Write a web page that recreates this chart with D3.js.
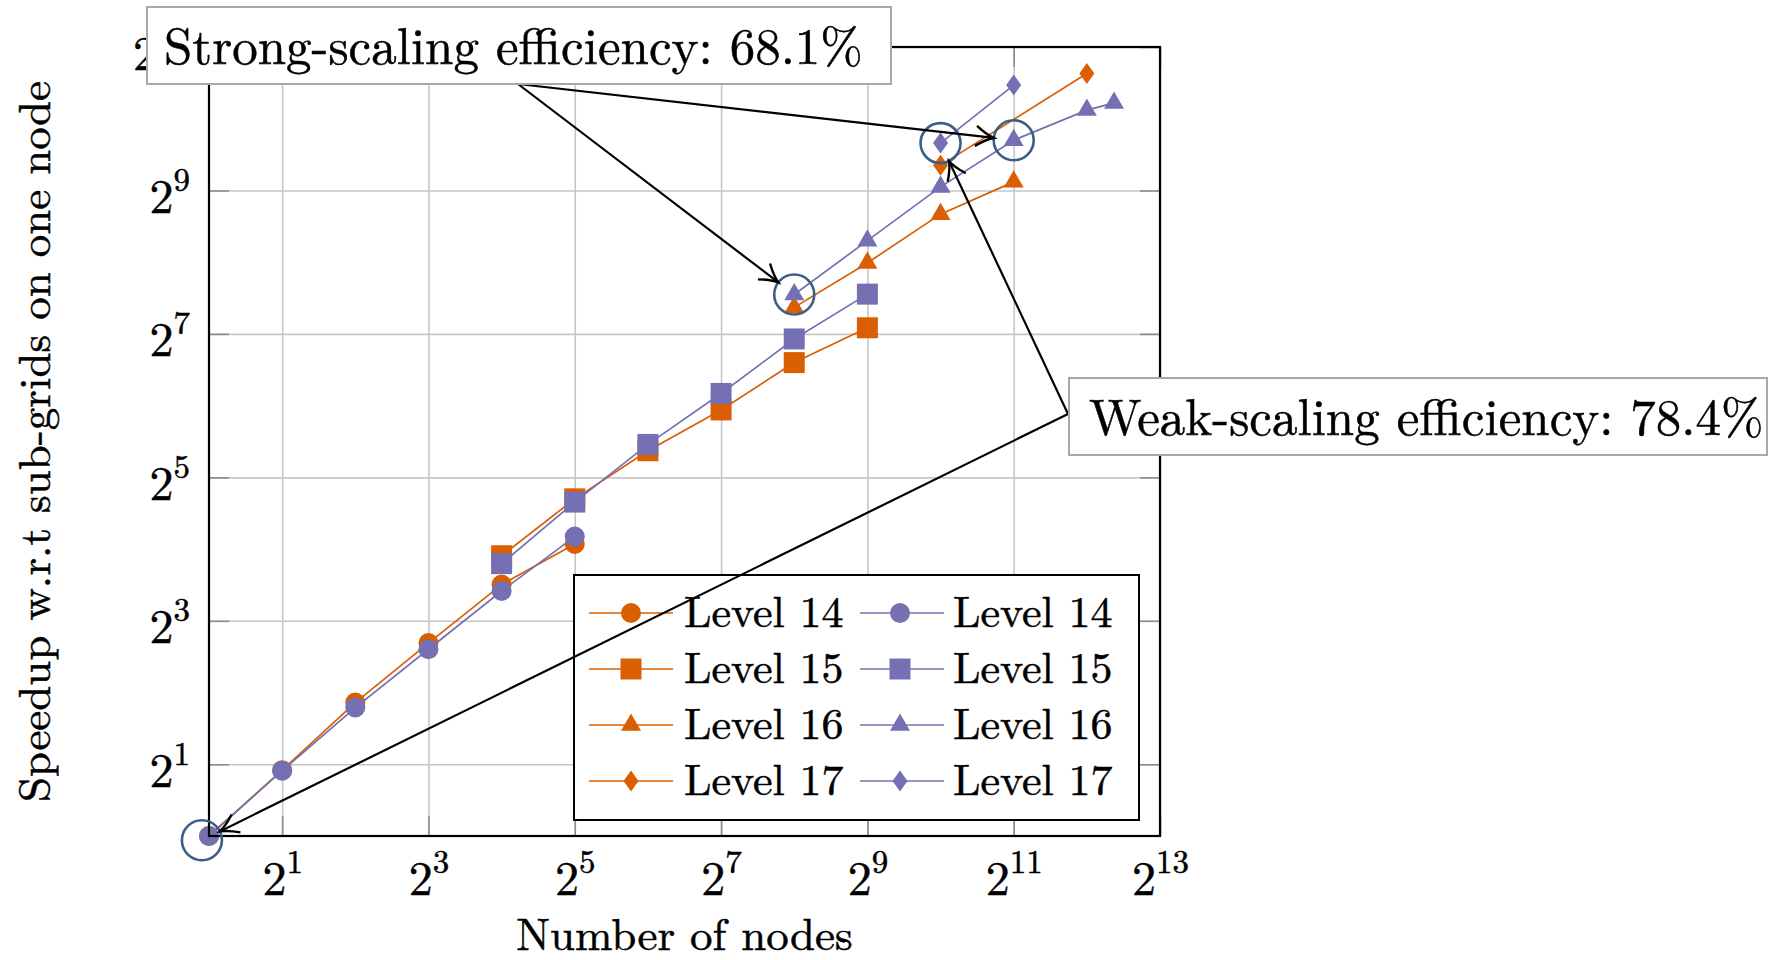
<!DOCTYPE html>
<html>
<head>
<meta charset="utf-8">
<script src="https://cdn.jsdelivr.net/npm/d3@7"></script>
<style>
  body { margin: 0; background: #fff; }
  svg text { stroke: #000; stroke-width: 0.5px; }
</style>
</head>
<body>
<svg id="chart" width="1769" height="960"></svg>
<script>
// ---- data ----
const levels = ["Level 14", "Level 15", "Level 16", "Level 17"];
const shapes = ["circle", "square", "triangle", "diamond"];

// number of nodes per series
const nodesL14 = [1, 2, 4, 8, 16, 32];
const nodesL15 = [16, 32, 64, 128, 256, 512];
const nodesL16Orange = [256, 512, 1024, 2048];
const nodesL16Purple = [256, 512, 1024, 2048, 4096, 5300];
const nodesL17Orange = [1024, 4096];
const nodesL17Purple = [1024, 2048];

// speedup w.r.t. sub-grids on one node
const orangeL14 = [1, 1.89, 3.63, 6.45, 11.35, 16.8];
const purpleL14 = [1, 1.88, 3.46, 6.08, 10.67, 18.06];
const orangeL15 = [15.0, 26.0, 41.4, 61.4, 97.0, 135.8];
const purpleL15 = [13.9, 25.2, 44.0, 72.0, 121.9, 188.0];
const orangeL16 = [165.4, 254.2, 407.3, 556.4];
const purpleL16 = [187.4, 315.2, 530, 832, 1113, 1193];
const orangeL17 = [652.6, 1584];
const purpleL17 = [809, 1418];

const xTickValues = [2, 8, 32, 128, 512, 2048, 8192];
const yTickValues = [2, 8, 32, 128, 512, 2048];

// highlighted points [nodes, speedup]
const circledPoints = [[0.935, 0.96], [256, 187.4], [1024, 809], [2048, 832]];

const orange = "#d95f02", purple = "#7570b3";
const FONT = '"Latin Modern Roman", "Liberation Serif", serif';

const seriesOrange = [
    { level: 0, nodes: nodesL14, values: orangeL14 },
    { level: 1, nodes: nodesL15, values: orangeL15 },
    { level: 2, nodes: nodesL16Orange, values: orangeL16 },
    { level: 3, nodes: nodesL17Orange, values: orangeL17 }
];
const seriesPurple = [
    { level: 0, nodes: nodesL14, values: purpleL14 },
    { level: 1, nodes: nodesL15, values: purpleL15 },
    { level: 2, nodes: nodesL16Purple, values: purpleL16 },
    { level: 3, nodes: nodesL17Purple, values: purpleL17 }
];

// ---- layout ----
const plot = { left: 209, right: 1160, top: 47, bottom: 836 };
const innerW = plot.right - plot.left, innerH = plot.bottom - plot.top;

const svg = d3.select("#chart");
const g = svg.append("g").attr("transform", `translate(${plot.left},${plot.top})`);

const x = d3.scaleLog().base(2).domain([1, 8192]).range([0, innerW]);
const y = d3.scaleLog().base(2).domain([1, 2048]).range([innerH, 0]);

// Grid
const gridX = g.append("g").attr("transform", `translate(0,${innerH})`)
    .call(d3.axisBottom(x).tickValues(xTickValues).tickSize(-innerH).tickFormat(""));
const gridY = g.append("g")
    .call(d3.axisLeft(y).tickValues(yTickValues).tickSize(-innerW).tickFormat(""));
[gridX, gridY].forEach(a => {
    a.select(".domain").remove();
    a.selectAll("line").attr("stroke", "#c6c6c6").attr("stroke-width", 1.6);
});

// Inner tick marks on all four sides
const tickLen = 20;
const tickAxes = [
    g.append("g").attr("transform", `translate(0,${innerH})`).call(d3.axisBottom(x).tickValues(xTickValues).tickSize(-tickLen).tickFormat("")),
    g.append("g").call(d3.axisTop(x).tickValues(xTickValues).tickSize(-tickLen).tickFormat("")),
    g.append("g").call(d3.axisLeft(y).tickValues(yTickValues).tickSize(-tickLen).tickFormat("")),
    g.append("g").attr("transform", `translate(${innerW},0)`).call(d3.axisRight(y).tickValues(yTickValues).tickSize(-tickLen).tickFormat(""))
];
tickAxes.forEach(a => {
    a.select(".domain").remove();
    a.selectAll("line").attr("stroke", "#8c8c8c").attr("stroke-width", 1.6);
});

// Marker shapes
function markerPath(shape) {
    switch (shape) {
        case "circle": return "M10,0A10,10 0 1,1 -10,0A10,10 0 1,1 10,0Z";
        case "square": return "M-10.5,-10.5H10.5V10.5H-10.5Z";
        case "triangle": return "M0,-11.5L10,5.75L-10,5.75Z";
        case "diamond": return "M0,-10.5L7.5,0L0,10.5L-7.5,0Z";
    }
}

const line = d3.line().x(d => x(d[0])).y(d => y(d[1]));

function drawSeries(list, color) {
    list.forEach(s => {
        const pts = s.nodes.map((n, i) => [n, s.values[i]]);
        g.append("path")
            .datum(pts)
            .attr("d", line)
            .attr("fill", "none")
            .attr("stroke", color)
            .attr("stroke-width", 1.7);
        g.selectAll(null)
            .data(pts)
            .enter()
            .append("path")
            .attr("transform", d => `translate(${x(d[0])},${y(d[1])})`)
            .attr("d", markerPath(shapes[s.level]))
            .attr("fill", color);
    });
}
drawSeries(seriesOrange, orange);
drawSeries(seriesPurple, purple);

// Axis box
g.append("rect")
    .attr("x", 0).attr("y", 0)
    .attr("width", innerW).attr("height", innerH)
    .attr("fill", "none")
    .attr("stroke", "#000")
    .attr("stroke-width", 2.2);

// Tick labels as 2^k
function powerLabel(sel) {
    sel.each(function (d) {
        const t = d3.select(this);
        t.text(null);
        t.append("tspan").text("2");
        t.append("tspan").attr("dy", -22).style("font-size", "33px").text(Math.round(Math.log2(d)));
    });
}

const xAxisG = g.append("g").attr("transform", `translate(0,${innerH})`)
    .call(d3.axisBottom(x).tickValues(xTickValues).tickSize(0));
xAxisG.select(".domain").remove();
xAxisG.selectAll(".tick text")
    .attr("y", 59).attr("dy", null)
    .style("font-family", FONT)
    .style("font-size", "48px")
    .attr("fill", "#000")
    .call(powerLabel);

const yAxisG = g.append("g")
    .call(d3.axisLeft(y).tickValues(yTickValues).tickSize(0));
yAxisG.select(".domain").remove();
yAxisG.selectAll(".tick text")
    .attr("x", -19).attr("dy", 22)
    .attr("text-anchor", "end")
    .style("font-family", FONT)
    .style("font-size", "48px")
    .attr("fill", "#000")
    .call(powerLabel);

// Axis titles
svg.append("text")
    .attr("x", (plot.left + plot.right) / 2)
    .attr("y", 950)
    .attr("text-anchor", "middle")
    .style("font-family", FONT)
    .style("font-size", "45px")
    .text("Number of nodes");

svg.append("text")
    .attr("transform", `translate(50,${(plot.top + plot.bottom) / 2}) rotate(-90)`)
    .attr("text-anchor", "middle")
    .style("font-family", FONT)
    .style("font-size", "45px")
    .text("Speedup w.r.t sub-grids on one node");

// Legend
const legend = svg.append("g").attr("transform", "translate(574,575)");
legend.append("rect")
    .attr("width", 565).attr("height", 245)
    .attr("fill", "#fff")
    .attr("stroke", "#000")
    .attr("stroke-width", 2);

const legendCols = [
    { color: orange, lineX: 15, markX: 57, textX: 110 },
    { color: purple, lineX: 286, markX: 326, textX: 379 }
];
legendCols.forEach(col => {
    levels.forEach((lab, i) => {
        const cy = 38 + i * 56;
        legend.append("line")
            .attr("x1", col.lineX).attr("x2", col.lineX + 84)
            .attr("y1", cy).attr("y2", cy)
            .attr("stroke", col.color).attr("stroke-width", 1.7);
        legend.append("path")
            .attr("transform", `translate(${col.markX},${cy})`)
            .attr("d", markerPath(shapes[i]))
            .attr("fill", col.color);
        legend.append("text")
            .attr("x", col.textX).attr("y", cy + 14)
            .style("font-family", FONT)
            .style("font-size", "44px")
            .text(lab);
    });
});

// Annotations: circles + arrows + text boxes
const circR = 20;
const circCenters = circledPoints.map(p => [plot.left + x(p[0]), plot.top + y(p[1])]);
svg.selectAll(".hl")
    .data(circCenters)
    .enter()
    .append("circle")
    .attr("class", "hl")
    .attr("cx", d => d[0]).attr("cy", d => d[1])
    .attr("r", circR)
    .attr("fill", "none")
    .attr("stroke", "#3a5f86")
    .attr("stroke-width", 2.6);

svg.append("defs").append("marker")
    .attr("id", "arrow")
    .attr("markerUnits", "userSpaceOnUse")
    .attr("viewBox", "-22 -13 26 26")
    .attr("markerWidth", 26).attr("markerHeight", 26)
    .attr("refX", 0).attr("refY", 0)
    .attr("orient", "auto")
    .append("path")
    .attr("d", "M-18,-10 Q-8,-2.5 0,0 Q-8,2.5 -18,10")
    .attr("fill", "none")
    .attr("stroke", "#000")
    .attr("stroke-width", 2.4);

const strongFrom = [518, 84], weakFrom = [1068, 414];
const arrows = [
    { from: strongFrom, to: circCenters[1] },
    { from: strongFrom, to: circCenters[3] },
    { from: weakFrom, to: circCenters[0] },
    { from: weakFrom, to: circCenters[2] }
];
arrows.forEach(a => {
    const dx = a.to[0] - a.from[0], dy = a.to[1] - a.from[1];
    const len = Math.hypot(dx, dy);
    const tx = a.to[0] - dx / len * circR, ty = a.to[1] - dy / len * circR;
    svg.append("line")
        .attr("x1", a.from[0]).attr("y1", a.from[1])
        .attr("x2", tx).attr("y2", ty)
        .attr("stroke", "#000")
        .attr("stroke-width", 2.2)
        .attr("marker-end", "url(#arrow)");
});

function labelBox(bx, by, bw, bh, tx, ty, txt) {
    svg.append("rect")
        .attr("x", bx).attr("y", by)
        .attr("width", bw).attr("height", bh)
        .attr("fill", "#fff")
        .attr("stroke", "#a8a8a8")
        .attr("stroke-width", 2);
    svg.append("text")
        .attr("x", tx).attr("y", ty)
        .style("font-family", FONT)
        .style("font-size", "51px")
        .text(txt);
}
labelBox(147, 7, 744, 77, 164, 64, "Strong-scaling efficiency: 68.1%");
labelBox(1069, 378, 698, 77, 1089, 435, "Weak-scaling efficiency: 78.4%");
</script>
</body>
</html>
